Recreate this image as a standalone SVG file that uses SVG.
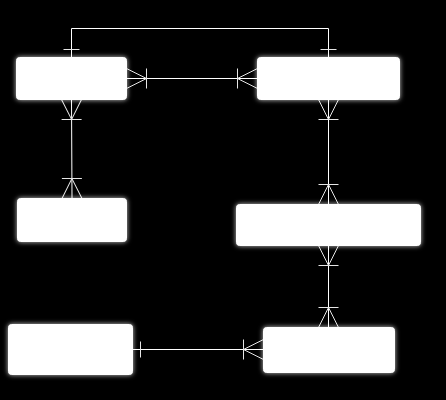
<svg xmlns="http://www.w3.org/2000/svg" width="446" height="400" viewBox="0 0 446 400">
<style>
.node{fill:#ffffff;stroke:#ffffff;stroke-width:1;filter:url(#glow)}
.conn path{fill:none;stroke:#ffffff;stroke-width:1}
.mk{fill:none;stroke:#e6e6e6;stroke-width:1}
</style>
<defs>
<filter id="glow" x="-20%" y="-30%" width="140%" height="160%">
<feGaussianBlur in="SourceAlpha" stdDeviation="2.5" result="b"/>
<feFlood flood-color="#ffffff" flood-opacity="0.8"/>
<feComposite in2="b" operator="in" result="g"/>
<feMerge><feMergeNode in="g"/><feMergeNode in="SourceGraphic"/></feMerge>
</filter>
<marker id="crowOne" markerUnits="userSpaceOnUse" markerWidth="1" markerHeight="1" refX="0" refY="0" orient="auto-start-reverse" overflow="visible">
<path class="mk" d="M0,-10 L-20,0 L0,10 M-20,-10 V10"/>
</marker>
<marker id="one" markerUnits="userSpaceOnUse" markerWidth="1" markerHeight="1" refX="0" refY="0" orient="auto-start-reverse" overflow="visible">
<path class="mk" d="M-8,-8 V8"/>
</marker>
</defs>
<rect width="446" height="400" fill="#000000"/>
<g id="connectors" class="conn">
<path d="M71.5 57.5 V28.5 H328.5 V57.5" marker-start="url(#one)" marker-end="url(#one)"/>
<path d="M126.5 78.5 H257.5" marker-start="url(#crowOne)" marker-end="url(#crowOne)"/>
<path d="M71.5 99.5 L72 198.5" marker-start="url(#crowOne)" marker-end="url(#crowOne)"/>
<path d="M328.5 99.5 V204.5" marker-start="url(#crowOne)" marker-end="url(#crowOne)"/>
<path d="M328.5 245.5 V327.5" marker-start="url(#crowOne)" marker-end="url(#crowOne)"/>
<path d="M132.5 349.5 H263.5" marker-start="url(#one)" marker-end="url(#crowOne)"/>
</g>
<g id="node1"><rect class="node" x="16.5" y="57.5" width="110" height="42" rx="3"/></g>
<g id="node2"><rect class="node" x="257.5" y="57.5" width="142" height="42" rx="3"/></g>
<g id="node3"><rect class="node" x="17.5" y="198.5" width="109" height="43" rx="3"/></g>
<g id="node4"><rect class="node" x="236.5" y="204.5" width="184" height="41" rx="3"/></g>
<g id="node5"><rect class="node" x="8.5" y="324.5" width="124" height="50" rx="3"/></g>
<g id="node6"><rect class="node" x="263.5" y="327.5" width="131" height="45" rx="3"/></g>
</svg>
